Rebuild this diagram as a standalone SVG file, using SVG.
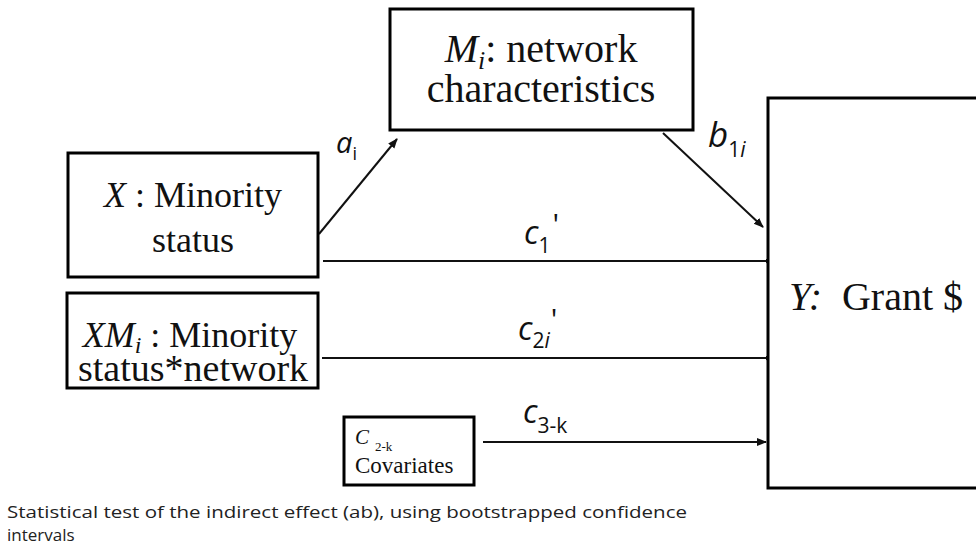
<svg xmlns="http://www.w3.org/2000/svg" width="976" height="547" viewBox="0 0 976 547">
<style>
.box{fill:#fff;stroke:#000;stroke-width:3}
.t{fill:#111}
.m{font-family:"Open Sans","Noto Sans",sans-serif;fill:#111}
.c{stroke:#111;stroke-width:2;fill:none}
.f{font-family:"Open Sans","Noto Sans",sans-serif;font-size:17px;fill:#222}
</style>
<defs>
<marker id="ah" viewBox="0 0 10 10" refX="9" refY="5" markerWidth="10" markerHeight="10" markerUnits="userSpaceOnUse" orient="auto">
<path d="M0,1 L10,5 L0,9 Z" fill="#111"/>
</marker>
<marker id="dot" viewBox="0 0 10 10" refX="5" refY="5" markerWidth="5" markerHeight="5" markerUnits="userSpaceOnUse" orient="auto">
<circle cx="5" cy="5" r="5" fill="#111"/>
</marker>
</defs>
<rect width="976" height="547" fill="#fff"/>
<g id="connectors">
<line class="c" x1="319" y1="234" x2="397" y2="139" marker-end="url(#ah)"/>
<line class="c" x1="663" y1="133" x2="763" y2="227" marker-end="url(#ah)"/>
<line class="c" x1="323" y1="261" x2="768" y2="261" marker-end="url(#dot)"/>
<line class="c" x1="322" y1="358" x2="768" y2="358" marker-end="url(#dot)"/>
<line class="c" x1="483" y1="442" x2="766" y2="442" marker-end="url(#ah)"/>
<text class="m" x="336" y="153" font-size="29" font-style="italic">a<tspan font-size="18" font-style="normal" dy="7">i</tspan></text>
<text class="m" x="708" y="147" font-size="35" font-style="italic">b<tspan font-size="21" font-style="normal" dy="10">1</tspan><tspan font-size="21">i</tspan></text>
<text class="m" x="524" y="244" font-size="32" font-style="italic">c<tspan font-size="21" font-style="normal" dy="9">1</tspan><tspan font-size="30" font-style="normal" dx="2" dy="-18">'</tspan></text>
<text class="m" x="518" y="340" font-size="32" font-style="italic">c<tspan font-size="21" font-style="normal" dy="8">2</tspan><tspan font-size="21">i</tspan><tspan font-size="30" font-style="normal" dx="1" dy="-18">'</tspan></text>
<text class="m" x="523" y="423" font-size="32" font-style="italic">c<tspan font-size="21" font-style="normal" dy="10">3-k</tspan></text>
</g>
<g id="node-M">
<rect class="box" x="390" y="9" width="303" height="121"/>
<text class="t" font-family="Liberation Serif, Times New Roman, DejaVu Serif, serif" x="541" y="62" font-size="40" text-anchor="middle"><tspan font-style="italic">M</tspan><tspan font-style="italic" font-size="26" dy="7">i</tspan><tspan dy="-7">: network</tspan></text>
<text class="t" font-family="Liberation Serif, Times New Roman, DejaVu Serif, serif" x="541" y="102" font-size="40" text-anchor="middle">characteristics</text>
</g>
<g id="node-X">
<rect class="box" x="68" y="153" width="250" height="124"/>
<text class="t" font-family="Liberation Serif, Times New Roman, DejaVu Serif, serif" x="193" y="207" font-size="36" text-anchor="middle"><tspan font-style="italic">X</tspan> : Minority</text>
<text class="t" font-family="Liberation Serif, Times New Roman, DejaVu Serif, serif" x="193" y="252" font-size="36" text-anchor="middle">status</text>
</g>
<g id="node-XM">
<rect class="box" x="67" y="293" width="251" height="95"/>
<text class="t" font-family="Liberation Serif, Times New Roman, DejaVu Serif, serif" x="190" y="347" font-size="36" text-anchor="middle"><tspan font-style="italic">XM</tspan><tspan font-style="italic" font-size="24" dy="6">i</tspan><tspan dy="-6"> : Minority</tspan></text>
<text class="t" font-family="Liberation Serif, Times New Roman, DejaVu Serif, serif" x="193" y="381" font-size="38" text-anchor="middle">status*network</text>
</g>
<g id="node-C">
<rect class="box" x="344" y="417" width="130" height="68"/>
<text class="t" font-family="Liberation Serif, Times New Roman, DejaVu Serif, serif" x="355" y="444" font-size="21"><tspan font-style="italic">C</tspan><tspan font-size="13" dx="6" dy="7">2-k</tspan></text>
<text class="t" font-family="Liberation Serif, Times New Roman, DejaVu Serif, serif" x="355" y="473" font-size="23">Covariates</text>
</g>
<g id="node-Y">
<rect class="box" x="768" y="98" width="230" height="390"/>
<text class="t" font-family="Liberation Serif, Times New Roman, DejaVu Serif, serif" x="789" y="310" font-size="40"><tspan font-style="italic">Y:</tspan><tspan dx="20">Grant $</tspan></text>
</g>
<g id="footer">
<text class="f" x="7" y="518" textLength="680" lengthAdjust="spacingAndGlyphs">Statistical test of the indirect effect (ab), using bootstrapped confidence</text>
<text class="f" x="7" y="541">intervals</text>
</g>
</svg>
